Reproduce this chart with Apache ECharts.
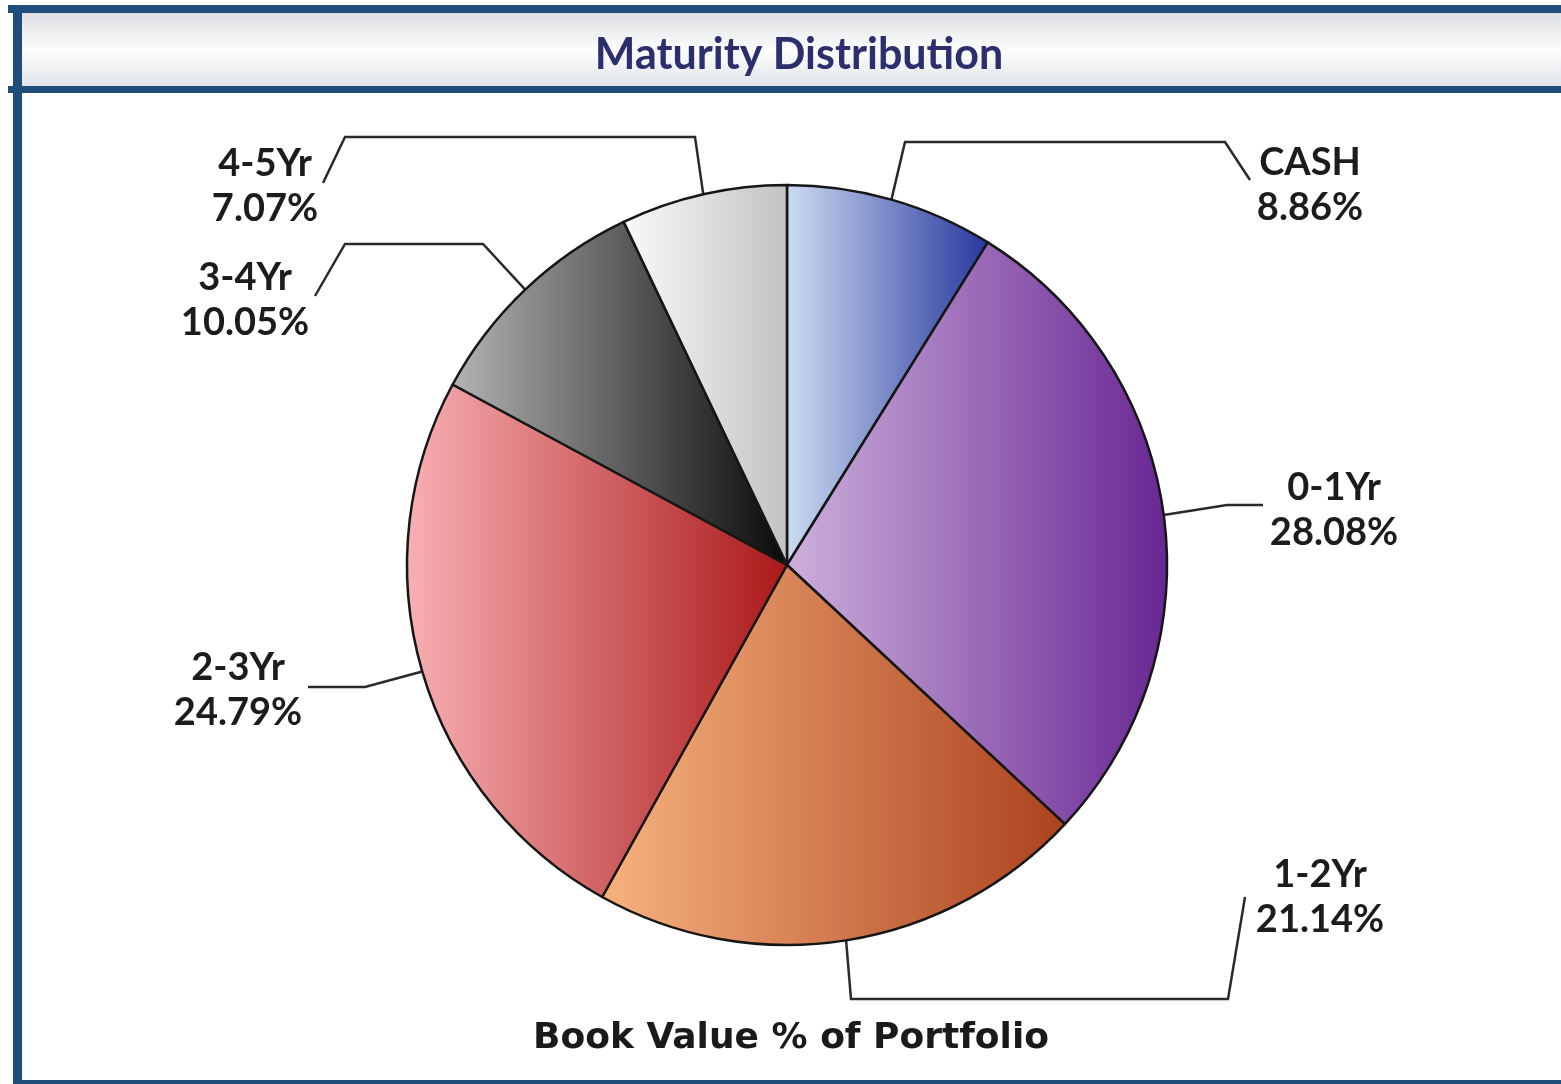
<!DOCTYPE html>
<html lang="en">

<head>
    <meta charset="UTF-8">
    <title>Maturity Distribution</title>
    <style>
        html, body { margin: 0; padding: 0; background: #fff; }
    </style>
</head>

<body>
    <div id="main" style="width: 1561px;height:1084px;"></div>

    <script src="https://cdn.jsdelivr.net/npm/echarts@6/dist/echarts.min.js"></script>
    <script>
        const chart = echarts.init(document.getElementById('main'));

        const categories = ['CASH', '0-1Yr', '1-2Yr', '2-3Yr', '3-4Yr', '4-5Yr'];
        const values = [8.86, 28.08, 21.14, 24.79, 10.05, 7.07];
        // light (left) -> dark (right) for each slice
        const gradients = [
            ['#cddcf2', '#27379d'],
            ['#cdb0dc', '#682693'],
            ['#f7b27f', '#ab421e'],
            ['#f8b0b4', '#ab1818'],
            ['#b4b4b4', '#080808'],
            ['#fafafa', '#c2c2c2']
        ];

        // where each label block sits, and the bends of its leader line
        const labelPos = [
            [1310, 185],
            [1334, 510],
            [1320, 897],
            [238, 690],
            [245, 300],
            [265, 186]
        ];
        const bends = [
            [[905, 142], [1225, 142], [1250, 180]],
            [[1227, 505], [1263, 505]],
            [[851, 999], [1228, 999], [1245, 897]],
            [[365, 687], [308, 687]],
            [[483, 244], [345, 244], [315, 296]],
            [[695, 137], [345, 137], [323, 183]]
        ];

        const center = [787, 565];
        const radius = 380;

        function edgePoint(i) {
            let before = 0;
            for (let k = 0; k < i; k++) before += values[k];
            const total = values.reduce((a, b) => a + b, 0);
            const a = (before + values[i] / 2) / total * Math.PI * 2;
            return [center[0] + radius * Math.sin(a), center[1] - radius * Math.cos(a)];
        }

        const blue = '#1f4d7c';

        option = {
            animation: false,
            title: [{
                text: 'Maturity Distribution',
                left: 794,
                textAlign: 'center',
                top: 29,
                textStyle: {
                    fontFamily: 'Lato',
                    fontWeight: 'bold',
                    fontSize: 43,
                    color: '#2c2f6d'
                }
            }, {
                text: 'Book Value % of Portfolio',
                left: 786,
                textAlign: 'center',
                top: 1016,
                textStyle: {
                    fontFamily: 'DejaVu Sans',
                    fontWeight: 'bold',
                    fontSize: 36,
                    color: '#1a1a1a'
                }
            }],
            graphic: [
                {
                    type: 'rect',
                    z: -10,
                    shape: { x: 13, y: 12, width: 1548, height: 76 },
                    style: {
                        fill: new echarts.graphic.LinearGradient(0, 0, 0, 1, [
                            { offset: 0, color: '#dcdfe2' },
                            { offset: 0.5, color: '#fdfdfd' },
                            { offset: 1, color: '#dfe3e8' }
                        ])
                    }
                },
                { type: 'rect', shape: { x: 8, y: 5, width: 1553, height: 8 }, style: { fill: blue } },
                { type: 'rect', shape: { x: 8, y: 86, width: 1553, height: 7 }, style: { fill: blue } },
                { type: 'rect', shape: { x: 13, y: 5, width: 9, height: 1079 }, style: { fill: blue } },
                { type: 'rect', shape: { x: 13, y: 1080, width: 1548, height: 4 }, style: { fill: blue } }
            ],
            series: [{
                type: 'pie',
                center: center,
                radius: radius,
                startAngle: 90,
                clockwise: true,
                avoidLabelOverlap: false,
                itemStyle: {
                    borderColor: '#161616',
                    borderWidth: 2.5
                },
                label: {
                    show: true,
                    formatter: p => p.name + '\n' + p.value.toFixed(2) + '%',
                    fontFamily: 'Lato',
                    fontWeight: 'bold',
                    fontSize: 38,
                    lineHeight: 45,
                    color: '#1c1c1c',
                    align: 'center'
                },
                labelLine: {
                    show: true,
                    lineStyle: { color: '#2a2a2a', width: 2.5 }
                },
                labelLayout: params => {
                    const i = params.dataIndex;
                    const start = params.labelLinePoints ? params.labelLinePoints[0] : edgePoint(i);
                    return {
                        x: labelPos[i][0],
                        y: labelPos[i][1],
                        align: 'center',
                        verticalAlign: 'middle',
                        labelLinePoints: [start].concat(bends[i])
                    };
                },
                data: categories.map((name, i) => ({
                    name: name,
                    value: values[i],
                    itemStyle: {
                        color: new echarts.graphic.LinearGradient(0, 0, 1, 0, [
                            { offset: 0, color: gradients[i][0] },
                            { offset: 1, color: gradients[i][1] }
                        ])
                    }
                }))
            }]
        };

        chart.setOption(option);
    </script>
</body>

</html>
